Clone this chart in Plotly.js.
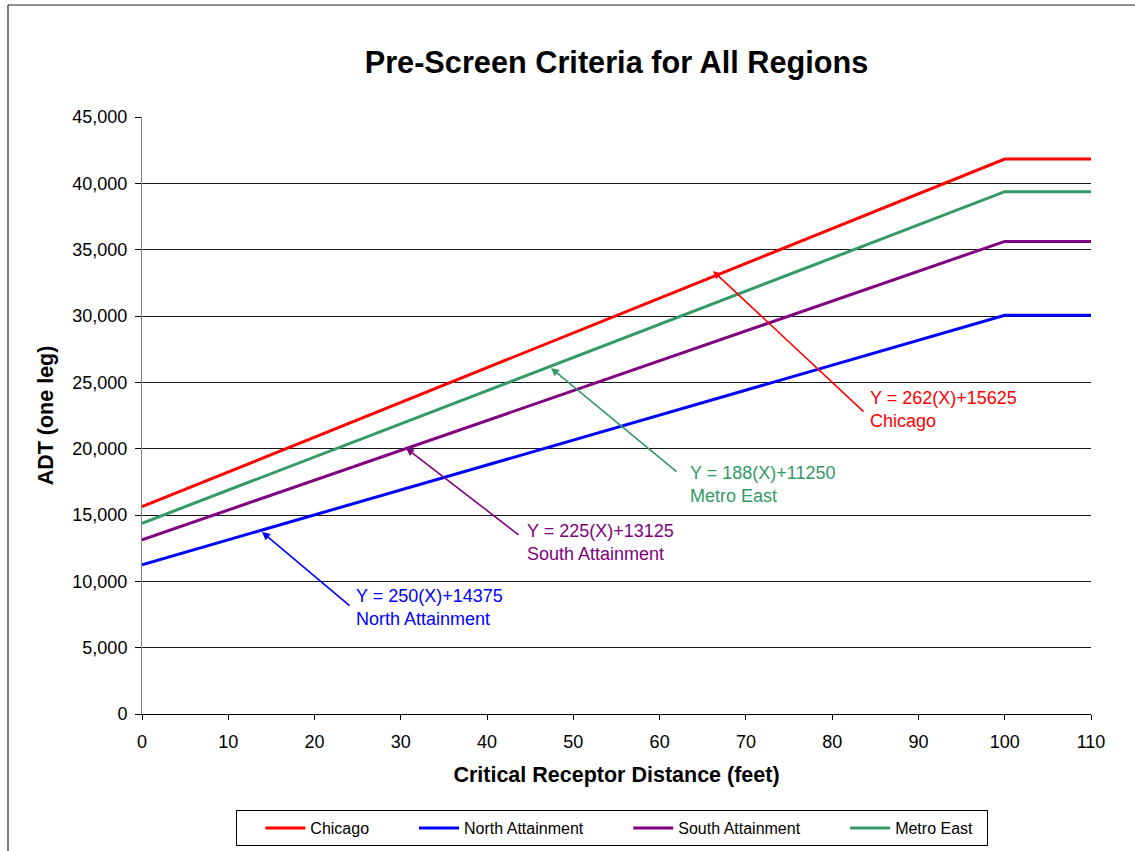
<!DOCTYPE html>
<html>
<head>
<meta charset="utf-8">
<script src="https://cdn.plot.ly/plotly-3.0.1.min.js"></script>
<style>
html,body{margin:0;padding:0;background:#fff;overflow:hidden;}
#chart{width:1135px;height:851px;}
</style>
</head>
<body>
<div id="chart"></div>
<script>
// ---- data ----
const distance = [0, 100, 110];
const chicago = [15625, 41825, 41825];
const northAttainment = [11250, 30050, 30050];
const southAttainment = [13125, 35625, 35625];
const metroEast = [14375, 39375, 39375];

const seriesNames = ["Chicago", "North Attainment", "South Attainment", "Metro East"];
const seriesColors = ["#FF0000", "#0000FF", "#800080", "#339966"];

// annotation labels (equation text, region name)
const labelText = [
  "Y = 262(X)+15625<br>Chicago",
  "Y = 250(X)+14375<br>North Attainment",
  "Y = 225(X)+13125<br>South Attainment",
  "Y = 188(X)+11250<br>Metro East"
];
// label anchor (left, middle) in data units
const labelX = [84.1, 24.6, 44.45, 63.25];
const labelY = [22916, 8028, 12890, 17300];
// arrow head and tail in data units
const arrowHeadX = [66.19, 13.91, 30.60, 47.41];
const arrowHeadY = [33393, 13719, 20051, 26082];
const arrowTailX = [83.81, 24.23, 43.82, 62.13];
const arrowTailY = [22690, 8066, 13418, 18167];

const xTicks = [0,10,20,30,40,50,60,70,80,90,100,110];
const yTicks = [0,5000,10000,15000,20000,25000,30000,35000,40000,45000];

const FONT = "Liberation Sans, Arial, sans-serif";
const NB = "\u00A0";
const gapPad = NB.repeat(9);
const endPad = NB.repeat(2);

const allY = [chicago, northAttainment, southAttainment, metroEast];
const traces = allY.map((ys, i) => ({
  x: distance,
  y: ys,
  type: "scatter",
  mode: "lines",
  name: seriesNames[i] + (i < 3 ? gapPad : endPad),
  line: {color: seriesColors[i], width: 3}
}));

const annotations = [];
for (let i = 0; i < 4; i++) {
  annotations.push({
    x: arrowHeadX[i], y: arrowHeadY[i], xref: "x", yref: "y",
    ax: arrowTailX[i], ay: arrowTailY[i], axref: "x", ayref: "y",
    text: "", showarrow: true, arrowhead: 2, arrowsize: 1, arrowwidth: 1.6,
    arrowcolor: seriesColors[i], standoff: 0, startstandoff: 0
  });
  annotations.push({
    x: labelX[i], y: labelY[i], xref: "x", yref: "y",
    text: labelText[i], showarrow: false, xanchor: "left", yanchor: "middle",
    align: "left", font: {family: FONT, size: 18, color: seriesColors[i]}
  });
}

const layout = {
  width: 1135, height: 851, autosize: false,
  margin: {l: 142, r: 44, t: 117, b: 137, pad: 0, autoexpand: false},
  paper_bgcolor: "#fff", plot_bgcolor: "#fff",
  font: {family: FONT, color: "#000"},
  title: {
    text: "<b>Pre-Screen Criteria for All Regions</b>",
    font: {family: FONT, size: 30.7, color: "#000"},
    x: 0.5, xref: "paper", y: 1 - 62/851, yref: "container", yanchor: "middle"
  },
  xaxis: {
    range: [0, 110], tickvals: xTicks, ticktext: xTicks.map(String),
    showgrid: false, zeroline: false,
    showline: true, linecolor: "#000", linewidth: 1,
    ticks: "outside", ticklen: 5, tickcolor: "#000",
    ticklabelstandoff: 6,
    tickfont: {family: FONT, size: 18, color: "#000"},
    title: {text: "<b>Critical Receptor Distance (feet)</b>", font: {family: FONT, size: 21.5, color: "#000"}, standoff: 16},
    fixedrange: true
  },
  yaxis: {
    range: [0, 45000], tickvals: yTicks, tickformat: ",",
    showgrid: true, gridcolor: "#1a1a1a", gridwidth: 1, zeroline: false,
    showline: true, linecolor: "#808080", linewidth: 1,
    ticks: "outside", ticklen: 6, tickcolor: "#000",
    ticklabelstandoff: 4,
    tickfont: {family: FONT, size: 18, color: "#000"},
    title: {text: "<b>ADT (one leg)</b>", font: {family: FONT, size: 21.5, color: "#000"}, standoff: 12},
    fixedrange: true
  },
  legend: {
    orientation: "h", x: (236-142)/949, xanchor: "left",
    y: (714-810)/597, yanchor: "top",
    bordercolor: "#000", borderwidth: 1, bgcolor: "#fff",
    font: {family: FONT, size: 16, color: "#000"},
    title: {text: NB.repeat(3), side: "left", font: {family: FONT, size: 16}},
    itemwidth: 40, traceorder: "normal"
  },
  showlegend: true,
  annotations: annotations,
  shapes: [
    {type: "line", xref: "paper", yref: "paper",
     x0: (8-142)/949, x1: (1135-142)/949, y0: (714-5)/597, y1: (714-5)/597,
     line: {color: "#222", width: 1.2}, layer: "below"},
    {type: "line", xref: "paper", yref: "paper",
     x0: (8-142)/949, x1: (8-142)/949, y0: (714-5)/597, y1: (714-851)/597,
     line: {color: "#222", width: 1.2}, layer: "below"}
  ]
};

Plotly.newPlot("chart", traces, layout, {displayModeBar: false, staticPlot: true});
</script>
</body>
</html>
